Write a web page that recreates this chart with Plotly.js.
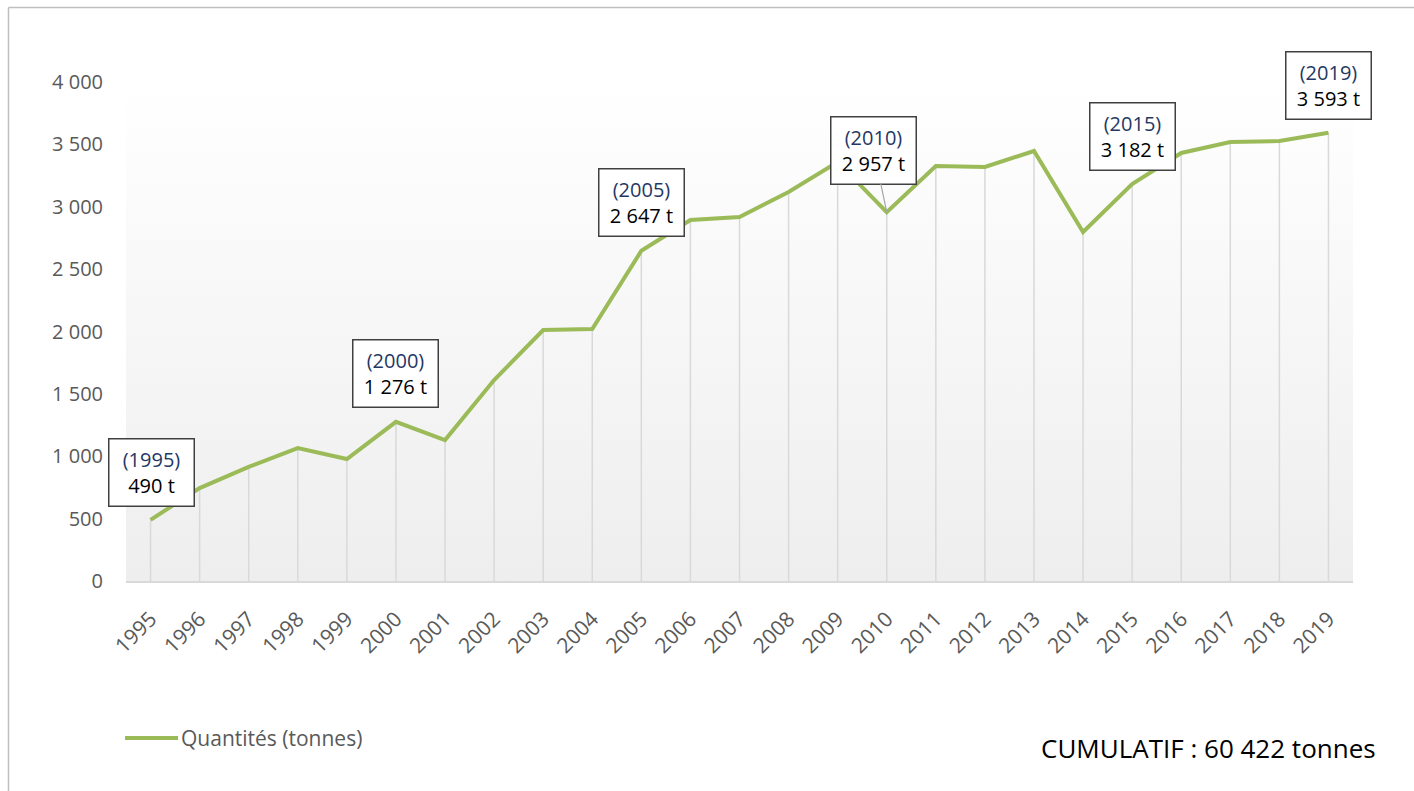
<!DOCTYPE html>
<html><head><meta charset="utf-8">
<script src="https://cdn.plot.ly/plotly-3.0.1.min.js"></script>
<style>html,body{margin:0;padding:0;background:#fff}#chart{width:1414px;height:791px}</style>
</head><body><div id="chart"></div>
<script>
const years = ['1995','1996','1997','1998','1999','2000','2001','2002','2003','2004','2005','2006','2007','2008','2009','2010','2011','2012','2013','2014','2015','2016','2017','2018','2019'];
const quantities = [490,745,915,1066,978,1276,1130,1611,2012,2020,2647,2894,2918,3118,3359,2957,3327,3319,3447,2798,3182,3431,3519,3527,3593];
const labelYears = ['1995','2000','2005','2010','2015','2019'];
const labelTexts = ['490 t','1 276 t','2 647 t','2 957 t','3 182 t','3 593 t'];
const seriesName = 'Quantités (tonnes)';
const cumulText = 'CUMULATIF : 60 422 tonnes';
const yTicks = [0,500,1000,1500,2000,2500,3000,3500,4000];

const W=1414,H=791,ML=126,MR=61,MT=82,MB=210;
const PW=W-ML-MR, PH=H-MT-MB;
const px=x=>(x-ML)/PW, py=y=>(H-MB-y)/PH;

// drop lines
const dx=[],dy=[];
years.forEach((yr,i)=>{dx.push(yr,yr,null);dy.push(0,quantities[i],null);});

const green='#9BBB59';
const traces=[
 {x:dx,y:dy,mode:'lines',line:{color:'#d9d9d9',width:1.5},hoverinfo:'skip',showlegend:false},
 {x:years,y:quantities,mode:'lines',name:seriesName,line:{color:green,width:4},showlegend:false}
];

const grad='data:image/svg+xml;charset=utf-8,'+encodeURIComponent('<svg xmlns="http://www.w3.org/2000/svg" width="100" height="100" viewBox="0 0 100 100" preserveAspectRatio="none"><defs><linearGradient id="g" x1="0" y1="0" x2="0" y2="1"><stop offset="0" stop-color="#ffffff"/><stop offset="1" stop-color="#eeeeee"/></linearGradient></defs><rect width="100" height="100" fill="url(#g)"/></svg>');

const offsets={'1995':[1,-47],'2000':[0,-48],'2005':[0,-48],'2010':[-13,-62],'2015':[0,-48],'2019':[0,-47]};
const annotations=labelYears.map((yr,k)=>{
  const i=years.indexOf(yr);
  const o=offsets[yr];
  return {x:i,y:quantities[i],xref:'x',yref:'y',ax:o[0],ay:o[1],
    showarrow:true,arrowhead:0,arrowwidth:1.2,
    arrowcolor: yr==='2010'?'#a6a6a6':'rgba(0,0,0,0)',
    text:'<span style="color:#1F3864">('+yr+')</span><br>'+labelTexts[k],
    font:{family:'Open Sans, sans-serif',size:20,color:'#000'},
    bgcolor:'#ffffff',bordercolor:'#404040',borderwidth:1.5,borderpad:3,
    width:78,height:60,align:'center'};
});
annotations.push({xref:'paper',yref:'paper',x:px(1378),y:py(748),xanchor:'right',yanchor:'middle',showarrow:false,
  text:cumulText,font:{family:'Open Sans, sans-serif',size:26,color:'#000'}});
// legend text
annotations.push({xref:'paper',yref:'paper',x:px(179),y:py(738),xanchor:'left',yanchor:'middle',showarrow:false,
  text:seriesName,font:{family:'Open Sans, sans-serif',size:21,color:'#595959'}});

const shapes=[
 {type:'line',xref:'paper',yref:'paper',x0:px(8.5),x1:px(1414),y0:py(7.5),y1:py(7.5),line:{color:'#bfbfbf',width:1.5}},
 {type:'line',xref:'paper',yref:'paper',x0:px(8.5),x1:px(8.5),y0:py(7.5),y1:py(791),line:{color:'#bfbfbf',width:1.5}},
 // legend line sample
 {type:'line',xref:'paper',yref:'paper',x0:px(125),x1:px(178),y0:py(738),y1:py(738),line:{color:green,width:4}}
];

const layout={
 width:W,height:H,margin:{l:ML,r:MR,t:MT,b:MB,pad:0},
 paper_bgcolor:'#ffffff',plot_bgcolor:'rgba(0,0,0,0)',
 separators:', ',
 font:{family:'Open Sans, sans-serif',color:'#595959'},
 xaxis:{type:'category',range:[-0.5,24.5],tickangle:-45,showgrid:false,zeroline:false,
   showline:true,linecolor:'#d9d9d9',linewidth:1.5,ticks:'',ticklabelstandoff:16,tickfont:{size:21,color:'#595959'}},
 yaxis:{range:[0,4000],tickvals:yTicks,tickformat:',',showgrid:false,zeroline:false,showline:false,
   ticks:'',ticklabelstandoff:22,tickfont:{size:20,color:'#595959'}},
 showlegend:false,
 images:[{source:grad,xref:'paper',yref:'paper',x:0,y:1,sizex:1,sizey:1,sizing:'stretch',layer:'below',xanchor:'left',yanchor:'top'}],
 annotations:annotations,shapes:shapes
};
Plotly.newPlot('chart',traces,layout,{displayModeBar:false,staticPlot:true});
</script></body></html>
